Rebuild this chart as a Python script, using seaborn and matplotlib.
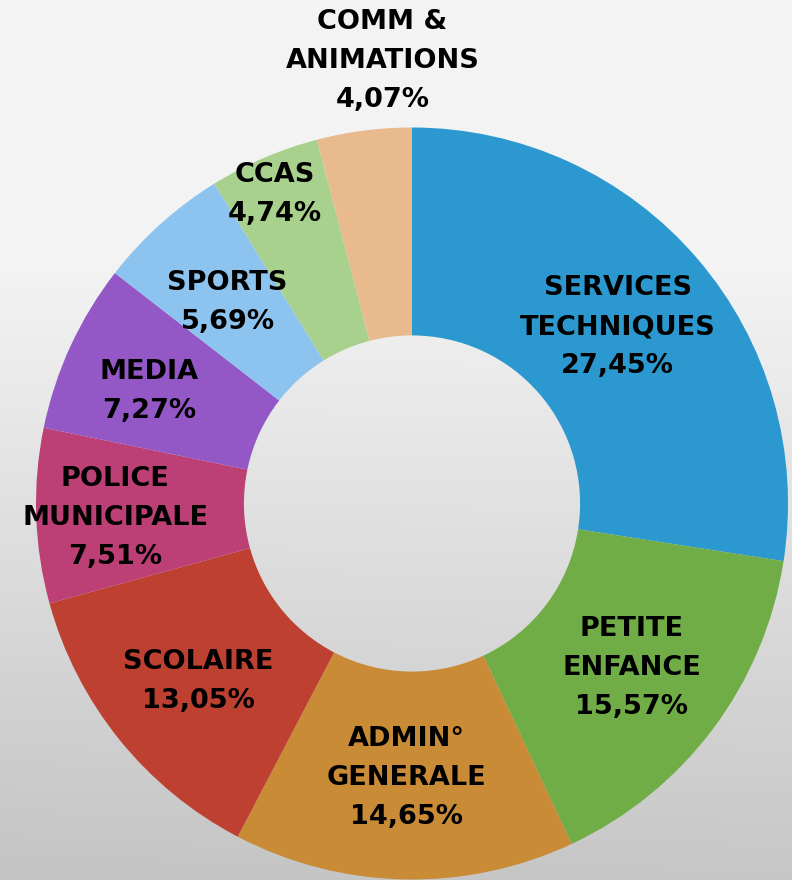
import numpy as np
import matplotlib
matplotlib.use("Agg")
import matplotlib.pyplot as plt
import seaborn as sns

# ==========================
# Data
# ==========================

services = [
    "SERVICES\nTECHNIQUES",
    "PETITE\nENFANCE",
    "ADMIN°\nGENERALE",
    "SCOLAIRE",
    "POLICE\nMUNICIPALE",
    "MEDIA",
    "SPORTS",
    "CCAS",
    "COMM &\nANIMATIONS",
]
shares = [27.45, 15.57, 14.65, 13.05, 7.51, 7.27, 5.69, 4.74, 4.07]
colors = [
    "#2B98D0", "#70AD47", "#C98B36", "#BE4031", "#BC4075",
    "#9358C6", "#8DC3EF", "#A9D18E", "#E8BA8E",
]

# label radius (in units of outer radius) and angle nudge in degrees
label_r = [0.72, 0.73, 0.73, 0.74, 0.79, 0.76, 0.725, 0.90, 1.18]
label_da = [0, 0, 0, 1, 1, 1.6, 0.6, 0.8, -3.5]

sns.set_theme(style="white")
plt.rcParams["font.family"] = ["DejaVu Sans"]

W, H = 792, 880
cx, cy, R = 412, 503.5, 376.0

fig = plt.figure(figsize=(W / 100, H / 100), dpi=100)
ax = fig.add_axes([0, 0, 1, 1])
ax.axis("off")

# ==========================
# Background gradient
# ==========================

gx, gy = np.meshgrid(np.linspace(0, W, 200), np.linspace(0, H, 220))
t = np.clip((gy - 260) / 620, 0, 1)
val = 0.955 - 0.175 * t - 0.012 * (1 - gx / W) * t
bg = np.repeat(val[..., None], 3, axis=2)
ax.imshow(bg, extent=(-cx / R, (W - cx) / R, -(H - cy) / R, cy / R),
          origin="upper", zorder=0, aspect="auto")

# ==========================
# Donut
# ==========================

palette = sns.color_palette(colors)
wedges, _ = ax.pie(
    shares,
    colors=palette,
    startangle=90,
    counterclock=False,
    radius=1.0,
    wedgeprops=dict(width=0.553, linewidth=0),
)
for w in wedges:
    w.set_zorder(2)

ax.set_aspect("auto")
ax.set_xlim(-cx / R, (W - cx) / R)
ax.set_ylim(-(H - cy) / R, cy / R)

# ==========================
# Labels
# ==========================

cum = np.cumsum([0] + shares)
for i, (name, val) in enumerate(zip(services, shares)):
    mid = 90 - 360 * (cum[i] + val / 2) / 100 + label_da[i]
    ang = np.deg2rad(mid)
    x = label_r[i] * np.cos(ang)
    y = label_r[i] * np.sin(ang)
    txt = name + "\n" + "{:.2f}%".format(val).replace(".", ",")
    ax.text(x, y, txt, ha="center", va="center", fontsize=19.5,
            fontweight="bold", color="black", linespacing=1.65, zorder=3)

plt.savefig("out.png", dpi=100)
plt.close()
